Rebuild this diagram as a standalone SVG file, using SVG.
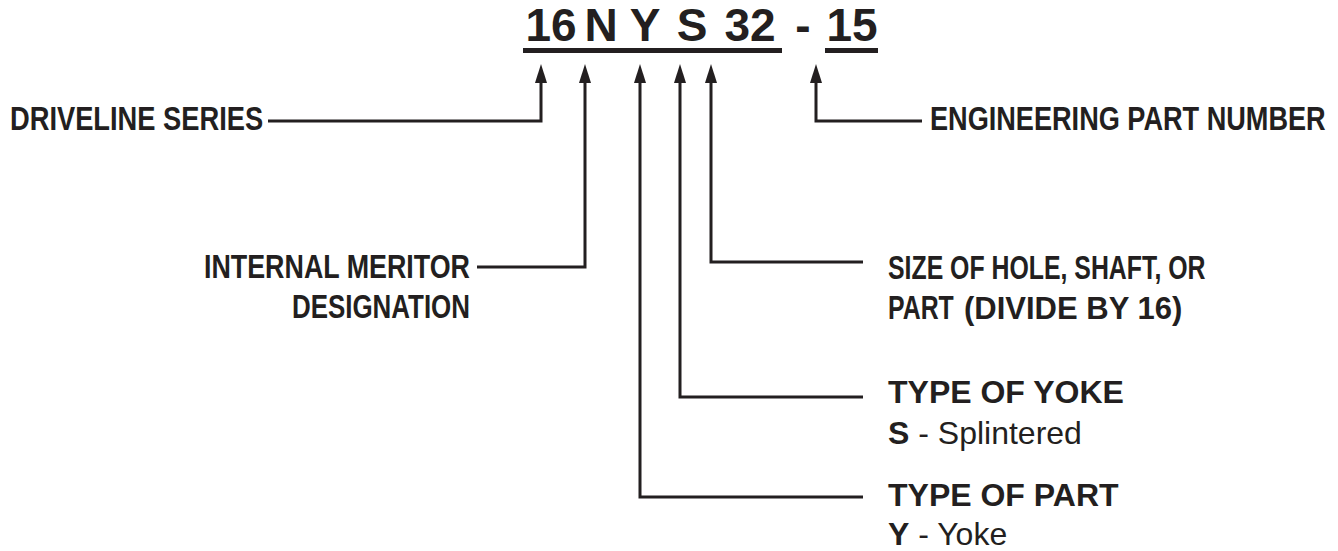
<svg xmlns="http://www.w3.org/2000/svg" width="1338" height="551" viewBox="0 0 1338 551">
<style>
.t{font-family:"Liberation Sans",Arial,sans-serif;font-weight:bold;fill:#231f20}
.title{font-size:46px}
.lab{font-size:33px}
.big{font-family:"Liberation Sans",Arial,sans-serif;font-size:32px;fill:#231f20}
.b{font-weight:bold}
.c{fill:none;stroke:#231f20;stroke-width:3}
.h{fill:#231f20}
</style>
<rect width="1338" height="551" fill="#fff"/>
<g id="title" class="t title" text-anchor="middle">
<text x="551" y="41">16</text>
<text x="601" y="41">N</text>
<text x="645" y="41">Y</text>
<text x="692" y="41">S</text>
<text x="750" y="41">32</text>
<text x="803" y="41">-</text>
<text x="852" y="41">15</text>
<rect x="523" y="48" width="259" height="5" class="h"/>
<rect x="825" y="48" width="53" height="5" class="h"/>
</g>
<g id="connectors">
<path class="c" d="M541,80 V121 H268"/>
<path class="c" d="M585,80 V267 H477"/>
<path class="c" d="M640,80 V497 H863"/>
<path class="c" d="M680,80 V397 H863"/>
<path class="c" d="M711,80 V262 H863"/>
<path class="c" d="M816,80 V121 H922"/>
<g class="h">
<polygon points="541,64 535,83 547,83"/>
<polygon points="585,64 579,83 591,83"/>
<polygon points="640,64 634,83 646,83"/>
<polygon points="680,64 674,83 686,83"/>
<polygon points="711,64 705,83 717,83"/>
<polygon points="816,64 810,83 822,83"/>
</g>
</g>
<g id="driveline-series" class="t lab"><text transform="translate(10,130) scale(0.827,1)">DRIVELINE SERIES</text></g>
<g id="engineering-part-number" class="t lab"><text transform="translate(930,130) scale(0.822,1)">ENGINEERING PART NUMBER</text></g>
<g id="internal-meritor" class="t lab" text-anchor="end">
<text transform="translate(470,278) scale(0.814,1)">INTERNAL MERITOR</text>
<text transform="translate(470,318) scale(0.786,1)">DESIGNATION</text>
</g>
<g id="size" class="t lab">
<text transform="translate(888,279) scale(0.753,1)">SIZE OF HOLE, SHAFT, OR</text>
<text transform="translate(888,319) scale(0.753,1)">PART</text>
<text x="964" y="319" style="font-size:31px">(DIVIDE BY 16)</text>
</g>
<g id="type-of-yoke" class="big">
<text x="888" y="403" class="b">TYPE OF YOKE</text>
<text x="888" y="444"><tspan class="b">S</tspan> - Splintered</text>
</g>
<g id="type-of-part" class="big">
<text x="888" y="506" class="b">TYPE OF PART</text>
<text x="888" y="545"><tspan class="b">Y</tspan> - Yoke</text>
</g>
</svg>
